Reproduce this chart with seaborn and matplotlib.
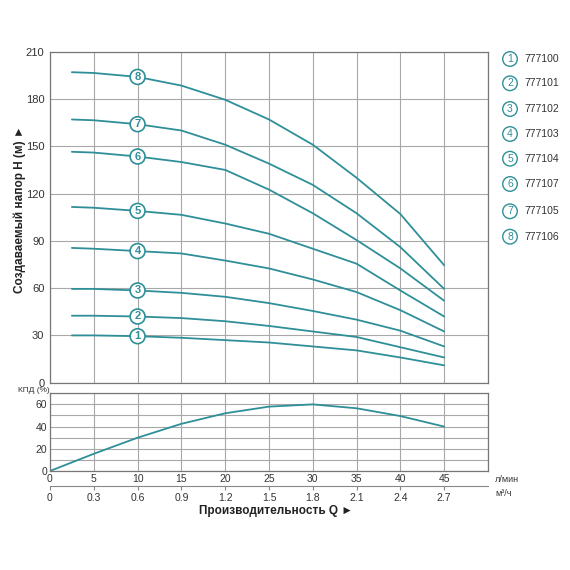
import numpy as np
import pandas as pd
import matplotlib
matplotlib.use("Agg")
import matplotlib.pyplot as plt
import seaborn as sns

# flow, l/min
q = [2.5, 5, 10, 15, 20, 25, 30, 35, 40, 45]
# head curves, m (curve number -> values)
h1 = [30, 30, 29.5, 28.5, 27, 25.5, 23, 20.5, 16, 11]
h2 = [42.5, 42.5, 42, 41, 39, 36, 32.5, 29, 22.5, 16]
h3 = [59.5, 59.5, 58.5, 57, 54.5, 50.5, 45.5, 40, 33, 23]
h4 = [85.5, 85, 83.5, 82, 77.5, 72.5, 65.5, 57.5, 46, 32.5]
h5 = [111.5, 111, 109, 106.5, 101, 94.5, 85, 75.5, 58.5, 42]
h6 = [146.5, 146, 143.5, 140, 135, 122.5, 107.5, 90.5, 72.5, 52]
h7 = [167, 166.5, 164, 160, 151, 139, 125.5, 107.5, 86, 59.5]
h8 = [197, 196.5, 194, 188.5, 179.5, 167, 151, 130, 107, 74.5]
heads = [h1, h2, h3, h4, h5, h6, h7, h8]
models = ["777100", "777101", "777102", "777103", "777104", "777107", "777105", "777106"]

# efficiency curve
q_eff = [0, 5, 10, 15, 20, 25, 30, 35, 40, 45]
eff = [0, 15.5, 30, 42.5, 52, 58, 60, 56.5, 49.5, 40]

x_ticks = [0, 5, 10, 15, 20, 25, 30, 35, 40, 45]
m3_ticks = [0, 0.3, 0.6, 0.9, 1.2, 1.5, 1.8, 2.1, 2.4, 2.7]

teal = "#2f8f98"
grid_c = "#a8a8a8"
txt_c = "#333333"

rows = []
for i, h in enumerate(heads):
    for x, y in zip(q, h):
        rows.append({"curve": i + 1, "q": x, "h": y})
df = pd.DataFrame(rows)
df_eff = pd.DataFrame({"q": q_eff, "eff": eff})

sns.set_style("white")
plt.rcParams["font.family"] = ["Liberation Sans", "DejaVu Sans"]

fig = plt.figure(figsize=(5.7, 5.7), dpi=100)
ax = fig.add_axes([0.0877, 0.3286, 0.7684, 0.5807])
ax2 = fig.add_axes([0.0877, 0.1737, 0.7684, 0.1363])

# head curves
sns.lineplot(data=df, x="q", y="h", units="curve", estimator=None,
             color=teal, lw=1.3, ax=ax, legend=False)
for i, h in enumerate(heads):
    ax.text(q[2], h[2], str(i + 1), ha="center", va="center", fontsize=8,
            color=teal, fontweight="bold", zorder=5,
            bbox=dict(boxstyle="circle,pad=0.22", fc="white", ec=teal, lw=1.2))

ax.set_xlim(0, 50)
ax.set_ylim(0, 210)
ax.set_xticks(range(0, 51, 5))
ax.set_yticks(range(0, 211, 30))
ax.set_xticklabels([])
ax.grid(True, color=grid_c, lw=0.8)
ax.tick_params(length=0, labelsize=8, colors=txt_c, pad=4)
ax.set_xlabel("")
ax.set_ylabel("")

# efficiency
sns.lineplot(data=df_eff, x="q", y="eff", color=teal, lw=1.3, ax=ax2)
ax2.set_xlim(0, 50)
ax2.set_ylim(0, 70)
ax2.set_xticks(range(0, 51, 5))
ax2.set_xticklabels([str(t) for t in x_ticks] + [""])
ax2.set_yticks([0, 20, 40, 60])
ax2.set_yticks([10, 30, 50, 70], minor=True)
ax2.grid(True, which="both", color=grid_c, lw=0.8)
ax2.tick_params(which="both", length=0, labelsize=7.5, colors=txt_c, pad=2)
ax2.set_xlabel("")
ax2.set_ylabel("")

sec = ax2.secondary_xaxis(-0.19, functions=(lambda v: v * 0.06, lambda v: v / 0.06))
sec.set_xticks(m3_ticks)
sec.set_xticklabels(["0"] + [f"{t:.1f}" for t in m3_ticks[1:]])
sec.tick_params(length=3, width=0.8, color="#888888", labelsize=7.5,
                colors=txt_c, pad=2, direction="out")
sec.spines["bottom"].set_color("#888888")
sec.spines["bottom"].set_linewidth(0.8)

for a in (ax, ax2):
    for s in a.spines.values():
        s.set_color("#777777")
        s.set_linewidth(0.9)

# right legend
leg_y = [59, 83.3, 109, 134, 158.7, 184, 211.3, 236.7]
for i, (m, yy) in enumerate(zip(models, leg_y)):
    fy = 1 - yy / 570
    fig.text(510 / 570, fy, str(i + 1), ha="center", va="center", fontsize=7.5,
             color=teal, bbox=dict(boxstyle="circle,pad=0.22", fc="white", ec=teal, lw=1.0))
    fig.text(524 / 570, fy, m, ha="left", va="center", fontsize=7.5, color=txt_c)

fig.text(20 / 570, 1 - 209 / 570, "Создаваемый напор H (м) ►", rotation=90,
         ha="center", va="center", fontsize=8.5, fontweight="bold", color="#222222")
fig.text(276 / 570, 1 - 511 / 570, "Производительность Q ►", ha="center", va="center",
         fontsize=8.5, fontweight="bold", color="#222222")
fig.text(18 / 570, 1 - 391 / 570, "КПД (%)", ha="left", va="center", fontsize=6, color=txt_c)
fig.text(495 / 570, 1 - 480 / 570, "л/мин", ha="left", va="center", fontsize=6.5, color=txt_c)
fig.text(495 / 570, 1 - 494 / 570, "м³/ч", ha="left", va="center", fontsize=6.5, color=txt_c)

fig.savefig("out.png", dpi=100, facecolor="white")
